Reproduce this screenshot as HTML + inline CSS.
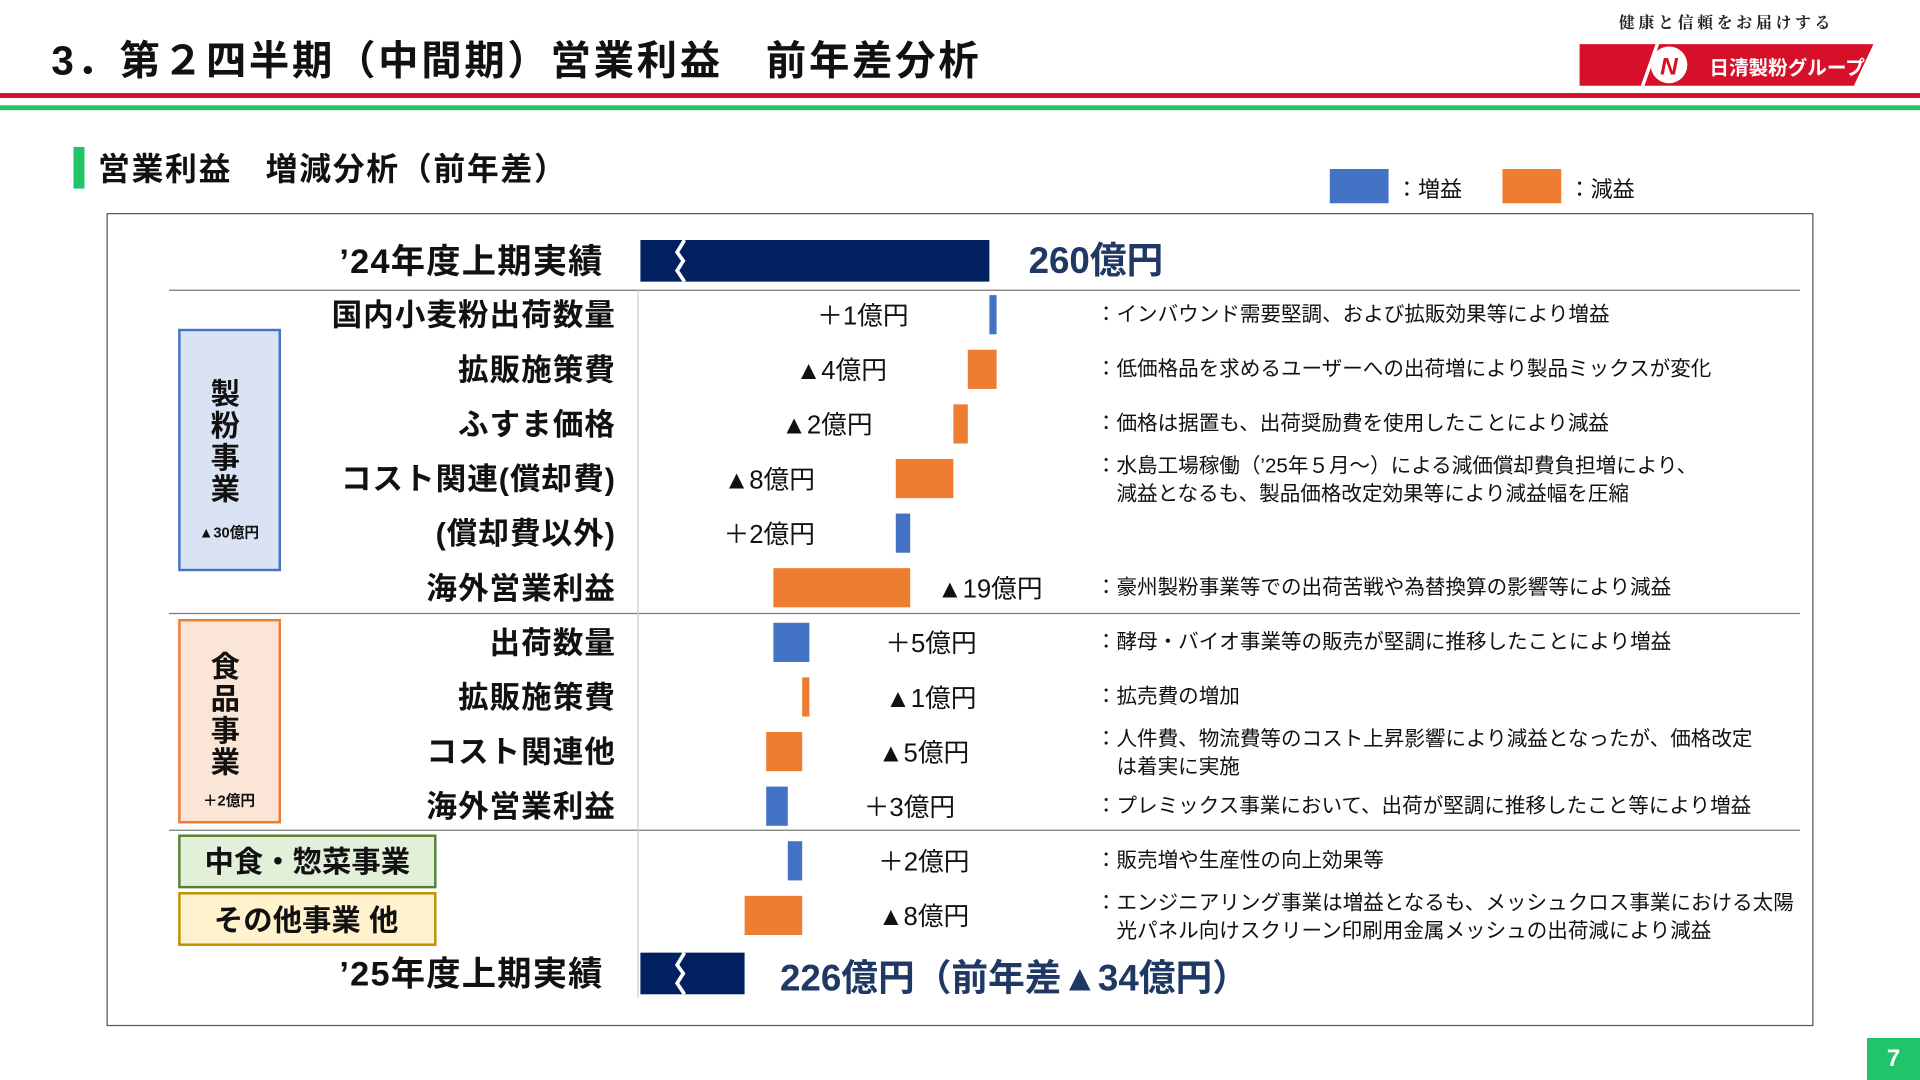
<!DOCTYPE html>
<html><head><meta charset="utf-8"><style>
html,body{margin:0;padding:0;background:#fff;}
svg{display:block;font-family:"Liberation Sans","Noto Sans CJK JP",sans-serif;}
</style></head><body>
<svg id="s" width="1920" height="1080" viewBox="0 0 1568 882" xmlns="http://www.w3.org/2000/svg">
<text x="42" y="61" font-size="33" font-weight="bold" letter-spacing="2.2" fill="#111">3．第２四半期（中間期）営業利益　前年差分析</text>
<rect x="0" y="76" width="1568" height="4" fill="#d7102a"/>
<rect x="0" y="86" width="1568" height="4" fill="#22c46a"/>
<text x="1410" y="23" font-size="13" text-anchor="middle" font-family="Liberation Serif,'Noto Serif CJK SC',serif" font-weight="bold" letter-spacing="3" fill="#222">健康と信頼をお届けする</text>
<g>
<polygon points="1290,36 1530,36 1514,70 1290,70" fill="#d7102a"/>
<circle cx="1363" cy="53" r="15" fill="#fff"/><text x="1363" y="61" font-size="20" font-style="italic" font-weight="bold" text-anchor="middle" fill="#d7102a">N</text>
<polygon points="1340,70 1352,36 1355,36 1343,70" fill="#fff"/>
<text x="1396" y="61" font-size="16" font-weight="bold" fill="#fff">日清製粉グループ</text>
</g>
<rect x="60" y="120" width="9" height="34" fill="#22c46a"/>
<text x="80" y="147" font-size="26" font-weight="bold" letter-spacing="1.4" fill="#111">営業利益　増減分析（前年差）</text>
<rect x="1086" y="138" width="48" height="28" fill="#4472c4"/>
<text x="1140" y="161" font-size="18" fill="#111">：増益</text>
<rect x="1227" y="138" width="48" height="28" fill="#ed7d31"/>
<text x="1281" y="161" font-size="18" fill="#111">：減益</text>
<rect x="87.5" y="174.5" width="1393" height="663" fill="none" stroke="#555" stroke-width="1"/>
<line x1="138" y1="237" x2="1470" y2="237" stroke="#777"/>
<line x1="138" y1="501" x2="1470" y2="501" stroke="#777"/>
<line x1="138" y1="678" x2="1470" y2="678" stroke="#777"/>
<line x1="521" y1="237" x2="521" y2="815" stroke="#ccc"/>
<g><rect x="146.5" y="269.5" width="82" height="196" fill="#dae3f3" stroke="#4472c4" stroke-width="2"/>
<text x="184" y="330" font-size="24" font-weight="bold" text-anchor="middle" fill="#111"><tspan x="184">製</tspan><tspan x="184" dy="26">粉</tspan><tspan x="184" dy="26">事</tspan><tspan x="184" dy="26">業</tspan></text>
<text x="187" y="439" font-size="12" font-weight="bold" text-anchor="middle" fill="#111">▲30億円</text></g>
<g><rect x="146.5" y="506.5" width="82" height="165" fill="#fbe5d6" stroke="#ed7d31" stroke-width="2"/>
<text x="184" y="553" font-size="24" font-weight="bold" text-anchor="middle" fill="#111"><tspan x="184">食</tspan><tspan x="184" dy="26">品</tspan><tspan x="184" dy="26">事</tspan><tspan x="184" dy="26">業</tspan></text>
<text x="187" y="658" font-size="12" font-weight="bold" text-anchor="middle" fill="#111">＋2億円</text></g>
<g><rect x="146.5" y="682.5" width="209" height="42" fill="#e2f0d9" stroke="#548235" stroke-width="2"/>
<text x="251" y="712" font-size="24" font-weight="bold" text-anchor="middle" fill="#111">中食・惣菜事業</text></g>
<g><rect x="146.5" y="729.5" width="209" height="42" fill="#fff2cc" stroke="#bf9000" stroke-width="2"/>
<text x="250" y="760" font-size="24" font-weight="bold" text-anchor="middle" fill="#111">その他事業 他</text></g>
<g id="chart"></g>
</svg>
<script>
const categories=["国内小麦粉出荷数量","拡販施策費","ふすま価格","コスト関連(償却費)","(償却費以外)","海外営業利益","出荷数量","拡販施策費","コスト関連他","海外営業利益","",""];
const deltas=[1,-4,-2,-8,2,-19,5,-1,-5,3,2,-8];
const valueLabels=["＋1億円","▲4億円","▲2億円","▲8億円","＋2億円","▲19億円","＋5億円","▲1億円","▲5億円","＋3億円","＋2億円","▲8億円"];
const labelSide=["L","L","L","L","L","r","R","R","R","R","R","R"];
const notes=[["：インバウンド需要堅調、および拡販効果等により増益"],["：低価格品を求めるユーザーへの出荷増により製品ミックスが変化"],["：価格は据置も、出荷奨励費を使用したことにより減益"],["：水島工場稼働（’25年５月～）による減価償却費負担増により、","　減益となるも、製品価格改定効果等により減益幅を圧縮"],[],["：豪州製粉事業等での出荷苦戦や為替換算の影響等により減益"],["：酵母・バイオ事業等の販売が堅調に推移したことにより増益"],["：拡売費の増加"],["：人件費、物流費等のコスト上昇影響により減益となったが、価格改定","　は着実に実施"],["：プレミックス事業において、出荷が堅調に推移したこと等により増益"],["：販売増や生産性の向上効果等"],["：エンジニアリング事業は増益となるも、メッシュクロス事業における太陽","　光パネル向けスクリーン印刷用金属メッシュの出荷減により減益"]];
const startValue=260, endValue=226;
const startLabel="’24年度上期実績", endLabel="’25年度上期実績";
const startText="260億円", endText="226億円（前年差▲34億円）";

const NS="http://www.w3.org/2000/svg";
const g=document.getElementById('chart');
const xScale=v=>808+(v-260)*5.88;
const rowY=i=>257+i*44.6;
const barH=32, baseX=523;
function el(t,a,txt){const e=document.createElementNS(NS,t);for(const k in a)e.setAttribute(k,a[k]);if(txt!==undefined)e.textContent=txt;g.appendChild(e);return e;}
function total(v,y,lab,nm){
  const r=el('rect',{x:baseX,y:y-17,width:xScale(v)-baseX,height:34,fill:'#002060'});
  
  
  const p=el('path',{d:`M${baseX+36},${y-17} l-6,10 l5,7 l-5,8 l6,9`,stroke:'#fff','stroke-width':3,fill:'none'});
  
  
  const t=el('text',{x:493,y:y+10,'font-size':28,'font-weight':'bold','text-anchor':'end','letter-spacing':1,fill:'#111'},lab);
  
  
  return r;
}
total(startValue,213,startLabel,"start-total");
const st=el('text',{x:840,y:223,'font-size':30,'font-weight':'bold',fill:'#1f3864'},startText);


let cum=startValue;
deltas.forEach((d,i)=>{
  const y=rowY(i), a=cum, b=cum+d; cum=b;
  const x0=xScale(Math.min(a,b)), x1=xScale(Math.max(a,b));
  const r=el('rect',{x:x0,y:y-barH/2,width:Math.max(x1-x0,4),height:barH,fill:d>=0?'#4472c4':'#ed7d31'});
  
  
  const side=labelSide[i];
  const xr=Math.max(x1,x0+4);
  const lt=side==='L'?el('text',{x:x0-66,y:y+8,'font-size':21,'text-anchor':'end',fill:'#111'},valueLabels[i]):el('text',{x:xr+(side==='r'?22:62),y:y+8,'font-size':21,fill:'#111'},valueLabels[i]);
  
  
  if(categories[i]){const c=el('text',{x:503,y:y+9,'font-size':25,'font-weight':'bold','text-anchor':'end','letter-spacing':0.8,fill:'#111'},categories[i]);
    
    }
  const n=notes[i];
  const ny=n.length>1?y+1:y+5;
  n.forEach((line,k)=>{const t=el('text',{x:895,y:ny+k*23-(n.length>1?6:0),'font-size':16.8,fill:'#111'},line);
    
    });
});
total(endValue,795,endLabel,"end-total");
const et=el('text',{x:637,y:809,'font-size':30,'font-weight':'bold',fill:'#1f3864'},endText);


</script>
<div style="position:absolute;left:1867px;top:1038px;width:53px;height:42px;background:#22c46a;color:#fff;font:bold 24px 'Liberation Sans',sans-serif;text-align:center;line-height:42px;">7</div>
</body></html>
